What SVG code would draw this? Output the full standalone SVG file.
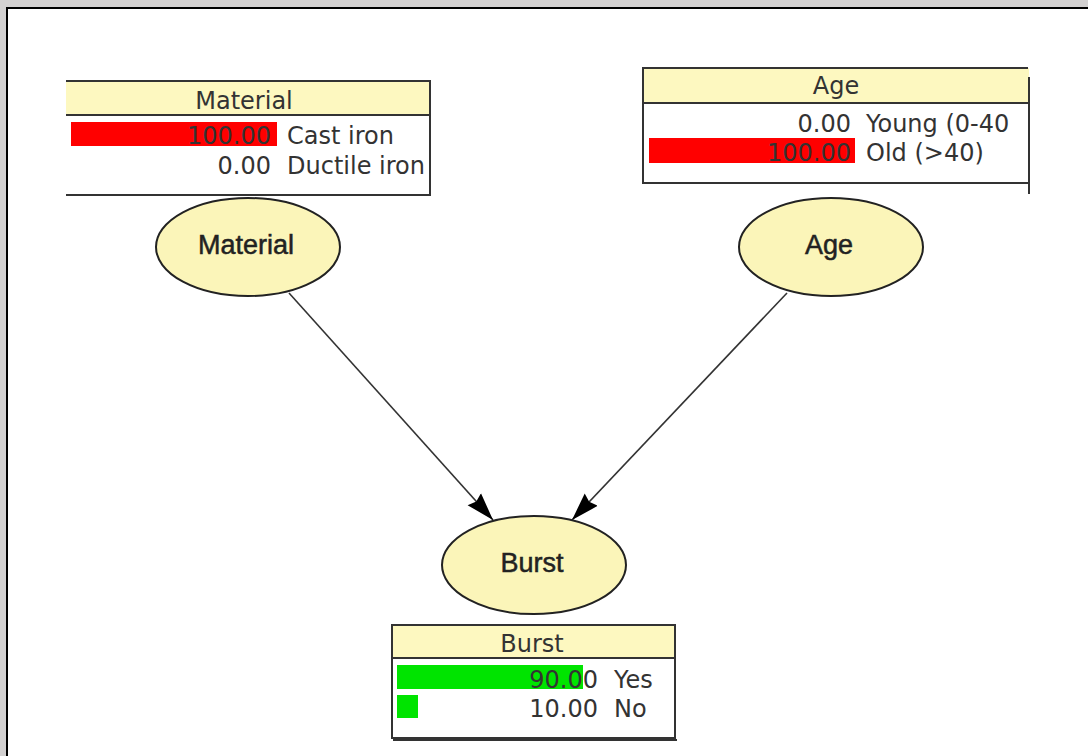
<svg xmlns="http://www.w3.org/2000/svg" width="1088" height="756" viewBox="0 0 1088 756">
  <defs>
    <marker id="arrow" markerWidth="30" markerHeight="24" refX="28" refY="11" orient="auto" markerUnits="userSpaceOnUse">
      <path d="M0,2 L28,11 L0,20 L3,11 Z" fill="#000"/>
    </marker>
  </defs>
  <style>
    .node ellipse { fill: #fbf5b9; stroke: #222; stroke-width: 2; }
    .node-label { font-family: "Liberation Sans", Arial, sans-serif; font-size: 27px; fill: #222; stroke: #222; stroke-width: 0.5; text-anchor: middle; }
    .head { fill: #fdf8c0; }
    .rule { stroke: #333; stroke-width: 2; fill: none; }
    .mon { font-family: "DejaVu Sans", Verdana, sans-serif; font-size: 24px; fill: #333; }
    .mon-title { font-family: "DejaVu Sans", Verdana, sans-serif; font-size: 24px; fill: #333; text-anchor: middle; }
    .val { text-anchor: end; }
    .red { fill: #ff0000; }
    .green { fill: #00e400; }
    .edge { stroke: #333; stroke-width: 1.6; fill: none; marker-end: url(#arrow); }
  </style>

  <!-- window background and canvas -->
  <rect x="0" y="0" width="1088" height="756" fill="#d3d1d1"/>
  <rect x="7" y="8" width="1090" height="760" fill="#ffffff" stroke="#000" stroke-width="2"/>

  <!-- connectors -->
  <g id="edges">
    <line class="edge" x1="289" y1="293" x2="493" y2="520"/>
    <line class="edge" x1="787" y1="293" x2="572" y2="520"/>
  </g>

  <!-- Material monitor -->
  <g id="monitor-material">
    <rect class="head" x="66" y="81" width="364" height="34"/>
    <rect class="red" x="71" y="122" width="206" height="24"/>
    <path class="rule" d="M66,81 H430 V195 H66 M66,115 H430"/>
    <text class="mon-title" x="244" y="109">Material</text>
    <text class="mon val" x="271" y="144">100.00</text>
    <text class="mon" x="287" y="144">Cast iron</text>
    <text class="mon val" x="271" y="174">0.00</text>
    <text class="mon" x="287" y="174">Ductile iron</text>
  </g>

  <!-- Age monitor -->
  <g id="monitor-age">
    <rect class="head" x="643" y="68" width="386" height="35"/>
    <rect class="red" x="649" y="138" width="206" height="25"/>
    <path class="rule" d="M1028,68 H643 V183 H1029 M643,103 H1029 M1029,77 V194"/>
    <text class="mon-title" x="836" y="94">Age</text>
    <text class="mon val" x="851" y="132">0.00</text>
    <text class="mon" x="866" y="132">Young (0-40</text>
    <text class="mon val" x="851" y="161">100.00</text>
    <text class="mon" x="866" y="161">Old (&gt;40)</text>
  </g>

  <!-- Burst monitor -->
  <g id="monitor-burst">
    <rect class="head" x="392" y="625" width="283" height="33"/>
    <rect class="green" x="397" y="665" width="186" height="24"/>
    <rect class="green" x="397" y="695" width="21" height="23"/>
    <path class="rule" d="M392,625 H675 V738 H392 Z M392,658 H675"/>
    <line x1="393" y1="740" x2="677" y2="740" stroke="#333" stroke-width="2"/>
    <text class="mon-title" x="532" y="652">Burst</text>
    <text class="mon val" x="598" y="688">90.00</text>
    <text class="mon" x="614" y="688">Yes</text>
    <text class="mon val" x="598" y="717">10.00</text>
    <text class="mon" x="614" y="717">No</text>
  </g>

  <!-- belief nodes -->
  <g id="node-material" class="node">
    <ellipse cx="248" cy="247" rx="92" ry="49"/>
    <text class="node-label" x="246" y="254">Material</text>
  </g>
  <g id="node-age" class="node">
    <ellipse cx="831" cy="247" rx="92" ry="49"/>
    <text class="node-label" x="829" y="254">Age</text>
  </g>
  <g id="node-burst" class="node">
    <ellipse cx="534" cy="565" rx="92" ry="49"/>
    <text class="node-label" x="532" y="572">Burst</text>
  </g>
</svg>
